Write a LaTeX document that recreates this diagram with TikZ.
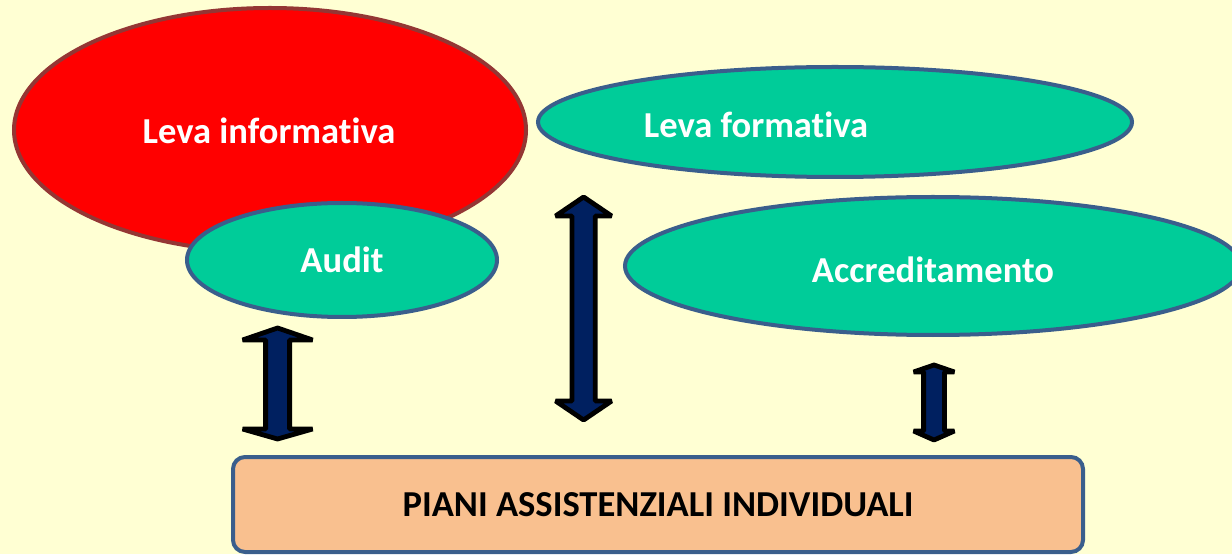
\documentclass[tikz,border=0pt]{standalone}
\usepackage{fontspec}
\setmainfont[Ligatures=NoCommon]{Carlito}
\usetikzlibrary{positioning}
\definecolor{bgyellow}{HTML}{FFFFD3}
\definecolor{levared}{HTML}{FF0000}
\definecolor{levaredrim}{HTML}{943634}
\definecolor{levateal}{HTML}{00CC99}
\definecolor{rimblue}{HTML}{3A5E8C}
\definecolor{pianipeach}{HTML}{F9C08F}
\definecolor{arrownavy}{HTML}{002060}
\tikzset{
  levatext/.style={text=white, font=\bfseries},
  bigarrow/.style={fill=arrownavy, draw=black, line width=0.12cm, line join=bevel},
  pianibox/.style={rectangle, rounded corners=0.3cm, fill=pianipeach, draw=rimblue,
    line width=0.1cm, font=\bfseries, text=black}
}
\begin{document}
\begin{tikzpicture}
                \useasboundingbox (0.000000,0.000000) rectangle (30.800000,13.850000);
                \fill [bgyellow] (0.000000,0.000000) rectangle (30.800000,13.850000);
                {\fontsize{26}{31}\selectfont

                % Drawing ellipse Leva informativa
                \filldraw [fill=levared, draw=levaredrim, line width=0.1cm] (6.750000,10.600000) ellipse (6.400000 and 3.050000);%
                \node [levatext] (levainfo) at (6.725000,10.575000) {Leva informativa};%

                % Drawing ellipse Audit
                \filldraw [fill=levateal, draw=rimblue, line width=0.1cm] (8.550000,7.350000) ellipse (3.875000 and 1.425000);%
                \node [levatext] (audit) at (8.550000,7.350000) {Audit};%

                % Drawing ellipse Leva formativa
                \filldraw [fill=levateal, draw=rimblue, line width=0.1cm] (20.875000,10.800000) ellipse (7.425000 and 1.375000);%
                \node [levatext] (levaform) at (18.900000,10.725000) {Leva formativa};%

                % Drawing ellipse Accreditamento
                \filldraw [fill=levateal, draw=rimblue, line width=0.1cm] (23.325000,7.200000) ellipse (7.700000 and 1.725000);%
                \node [levatext] (accred) at (23.325000,7.100000) {Accreditamento};%

                % Drawing box of the piani
                \node [pianibox, minimum width=21.250000cm, minimum height=2.375000cm] (piani) at (16.450000,1.237500) {PIANI ASSISTENZIALI INDIVIDUALI};%

                % Drawing arrow Audit - piani
                \draw [bigarrow] (6.940000,5.650000) -- (7.815000,5.350000) -- (7.240000,5.350000) -- (7.240000,3.125000) -- (7.815000,3.125000) -- (6.940000,2.875000) -- (6.065000,3.125000) -- (6.640000,3.125000) -- (6.640000,5.350000) -- (6.065000,5.350000) -- cycle;%

                % Drawing arrow Leva formativa - piani
                \draw [bigarrow] (14.590000,8.925000) -- (15.290000,8.450000) -- (14.880000,8.450000) -- (14.880000,3.825000) -- (15.290000,3.825000) -- (14.590000,3.350000) -- (13.890000,3.825000) -- (14.300000,3.825000) -- (14.300000,8.450000) -- (13.890000,8.450000) -- cycle;%

                % Drawing arrow Accreditamento - piani
                \draw [bigarrow] (23.350000,4.725000) -- (23.860000,4.550000) -- (23.610000,4.550000) -- (23.610000,3.075000) -- (23.860000,3.075000) -- (23.350000,2.850000) -- (22.840000,3.075000) -- (23.090000,3.075000) -- (23.090000,4.550000) -- (22.840000,4.550000) -- cycle;%
                }
\end{tikzpicture}
\end{document}
